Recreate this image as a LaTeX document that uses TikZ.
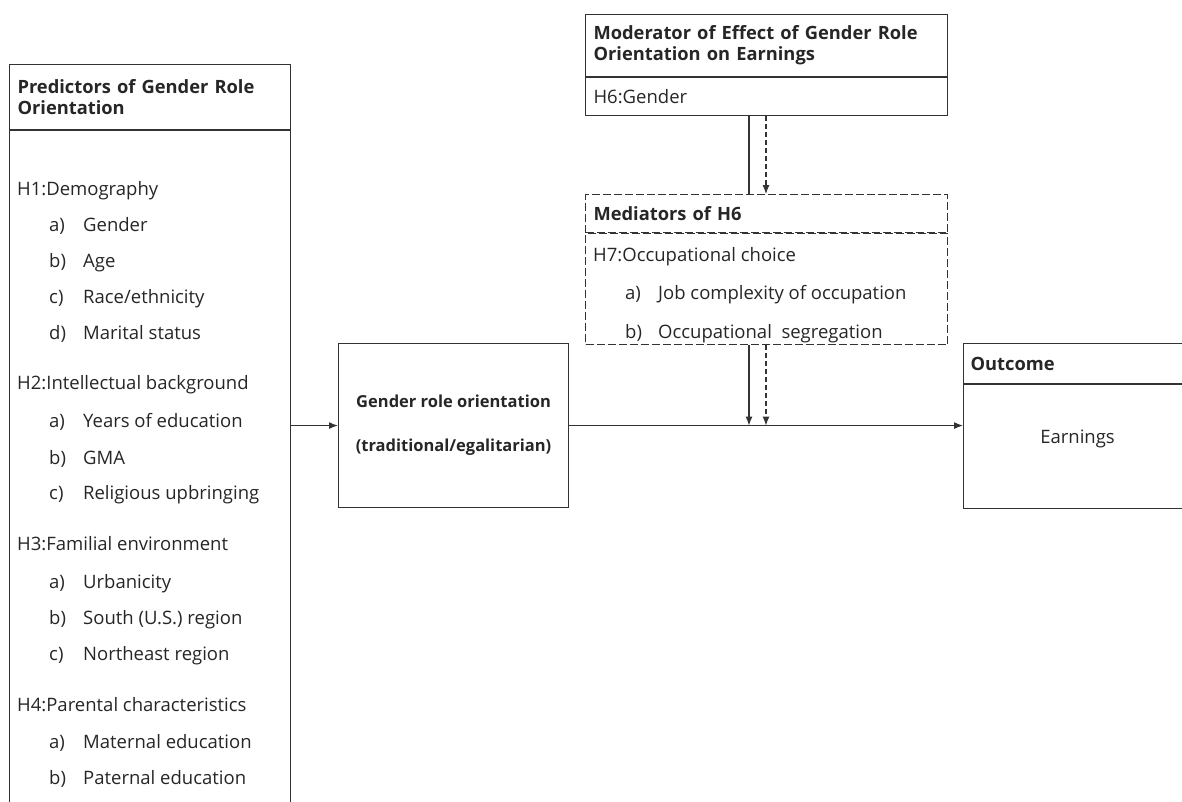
\documentclass[tikz,border=0pt]{standalone}
\usepackage{fontspec}
\setmainfont{Open Sans}
\usetikzlibrary{arrows.meta}
\usetikzlibrary{calc}

\newcommand{\hypfont}{\fontsize{18.5}{20}\selectfont}
\newcommand{\headfont}{\fontsize{18.3}{21}\selectfont\bfseries}

\tikzset{
  box/.style={draw=black!80, line width=1.1pt, inner sep=8pt, anchor=north west, text=black!85},
  dbox/.style={box, dash pattern=on 8pt off 3pt},
  hyp/.style={anchor=base west, inner sep=0pt, font=\hypfont, text=black!85},
  conn/.style={draw=black!80, line width=1.1pt},
  tip/.style={-{Latex[length=9pt,width=7pt]}},
  dline/.style={dash pattern=on 5pt off 3pt}
}

\begin{document}
\begin{tikzpicture}[x=1pt,y=-1pt]
        \useasboundingbox (0,0) rectangle (1182,801);
        \clip (0,0) rectangle (1182,801);

        %Predictors
        \node[box, minimum width=281pt, minimum height=65pt, text width=265pt, align=left, font=\headfont] (predhead) at (9,64) {Predictors of Gender Role\\Orientation};
        \node[box, anchor=north, minimum width=281pt, minimum height=760pt] (predbody) at (predhead.south) {};

        \node[hyp] (h1) at (17,195) {H1:Demography};
        \node[hyp] (h1a) at (49,231) {\makebox[34pt][l]{a)}Gender};
        \node[hyp] (h1b) at (49,267) {\makebox[34pt][l]{b)}Age};
        \node[hyp] (h1c) at (49,303) {\makebox[34pt][l]{c)}Race/ethnicity};
        \node[hyp] (h1d) at (49,339) {\makebox[34pt][l]{d)}Marital status};

        \node[hyp] (h2) at (17,389) {H2:Intellectual background};
        \node[hyp] (h2a) at (49,427) {\makebox[34pt][l]{a)}Years of education};
        \node[hyp] (h2b) at (49,464) {\makebox[34pt][l]{b)}GMA};
        \node[hyp] (h2c) at (49,499) {\makebox[34pt][l]{c)}Religious upbringing};

        \node[hyp] (h3) at (17,550) {H3:Familial environment};
        \node[hyp] (h3a) at (49,588) {\makebox[34pt][l]{a)}Urbanicity};
        \node[hyp] (h3b) at (49,624) {\makebox[34pt][l]{b)}South (U.S.) region};
        \node[hyp] (h3c) at (49,660) {\makebox[34pt][l]{c)}Northeast region};

        \node[hyp] (h4) at (17,711) {H4:Parental characteristics};
        \node[hyp] (h4a) at (49,748) {\makebox[34pt][l]{a)}Maternal education};
        \node[hyp] (h4b) at (49,784) {\makebox[34pt][l]{b)}Paternal education};

        %Moderator
        \node[box, minimum width=362pt, minimum height=62pt, text width=346pt, align=left, font=\headfont] (modhead) at (585,14) {Moderator of Effect of Gender Role\\Orientation on Earnings};
        \node[box, anchor=north, minimum width=362pt, minimum height=38pt, text width=346pt, align=left, font=\hypfont] (modbody) at (modhead.south) {H6:Gender};

        %Mediators
        \node[dbox, minimum width=362pt, minimum height=38pt, text width=346pt, align=left, font=\headfont] (medhead) at (585,194) {Mediators of H6};
        \node[dbox, anchor=north, minimum width=362pt, minimum height=111pt] (medbody) at (medhead.south) {};
        \node[hyp] (h7) at (593,261) {H7:Occupational choice};
        \node[hyp] (h7a) at (625,299) {\makebox[33pt][l]{a)}Job complexity of occupation};
        \node[hyp] (h7b) at (625,338) {\makebox[33pt][l]{b)}Occupational\ \ segregation};

        %Gender role orientation
        \node[box, minimum width=230pt, minimum height=164pt, align=center, font=\fontsize{16.5}{18}\selectfont\bfseries] (gro) at (338,343) {Gender role orientation\\[26pt](traditional/egalitarian)};

        %Outcome
        \node[box, minimum width=228pt, minimum height=40pt, text width=214pt, align=left, font=\headfont, inner sep=7pt] (outhead) at (963,343) {Outcome};
        \node[box, anchor=north, minimum width=228pt, minimum height=124pt] (outbody) at (outhead.south) {};
        \node[font=\hypfont, text=black!85] (earn) at ([yshift=8pt]outbody.center) {Earnings};

        %Arrows
        \coordinate (solidx) at (749,0);
        \coordinate (dashx) at (766,0);
        \draw[conn] (modbody.south -| solidx) -- (medhead.north -| solidx);
        \draw[conn, dline, tip] (modbody.south -| dashx) -- (medhead.north -| dashx);
        \draw[conn, tip] (medbody.south -| solidx) -- (gro.east -| solidx);
        \draw[conn, dline, tip] (medbody.south -| dashx) -- (gro.east -| dashx);
        \draw[conn, tip] (predbody.east |- gro.west) -- (gro.west);
        \draw[conn, tip] (gro.east) -- (gro.east -| outbody.west);

\end{tikzpicture}
\end{document}
